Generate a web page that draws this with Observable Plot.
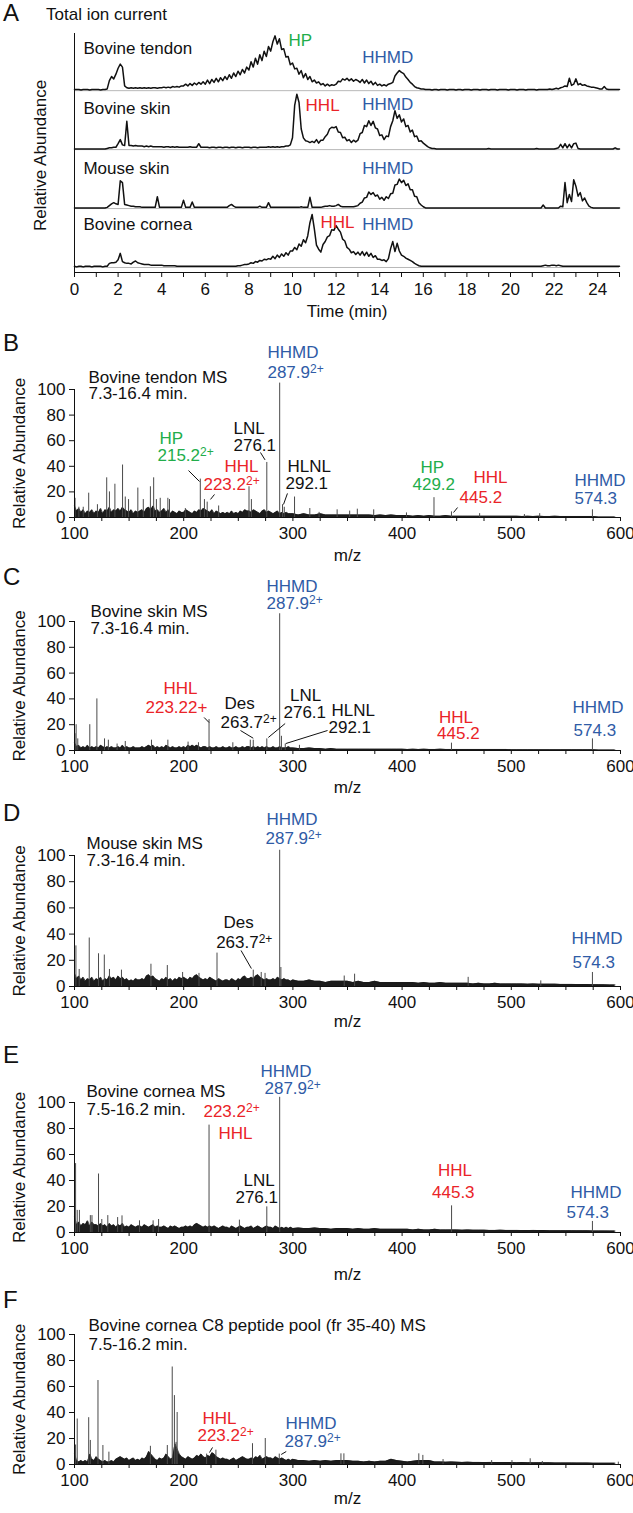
<!DOCTYPE html>
<html><head><meta charset="utf-8">
<script src="https://cdn.jsdelivr.net/npm/d3@7"></script>
<script src="https://cdn.jsdelivr.net/npm/@observablehq/plot@0.6"></script>
<style>
body{margin:0;background:#fff;}
#wrap{position:relative;width:633px;height:1513px;font-family:'Liberation Sans',Arial,Helvetica,sans-serif;color:#111;}
.panel{position:absolute;left:0;}
.letter{position:absolute;left:3px;font-size:24px;line-height:24px;}
.title{position:absolute;left:46px;top:6px;font-size:17px;line-height:17px;}
</style></head><body><div id="wrap"></div>
<script>
// ---------------- Panel A: total ion current (0.1 min steps, 0..25 min) ----------------
const ticStep = 0.1;
const ticTracks = ["Bovine tendon", "Bovine skin", "Mouse skin", "Bovine cornea"];
const ticTendon = [2,2,2,1,2,2,2,1,2,2, 2,2,1,2,2,3,17,24,20,28, 38,45,40,8,5,4,5,4,5,4, 5,4,5,4,5,4,5,5,4,5,
 5,6,5,6,5,7,6,7,6,8, 8,11,8,12,9,13,10,14,11,15, 11,18,12,19,14,21,15,22,17,24, 19,27,21,30,24,33,27,36,30,40,
 35,49,40,55,45,61,51,67,58,75, 67,83,93,79,88,70,71,57,58,44, 47,37,38,28,34,22,29,19,24,15, 18,13,15,10,12,8,11,8,10,9,
 11,16,15,20,18,21,17,20,16,19, 17,14,19,13,18,12,16,10,14,9, 11,8,10,8,11,12,14,25,30,34, 31,29,23,19,14,11,7,5,4,3,
 3,2,2,2,1,2,2,1,2,2, 2,1,2,2,2,1,2,2,1,2, 2,2,1,2,2,2,1,2,2,2, 1,2,2,2,1,2,2,2,2,1, 2,2,2,1,2,2,2,1,2,2,
 2,2,1,2,2,2,2,2,3,2, 3,4,3,5,6,8,7,21,9,11, 20,10,12,9,10,8,7,6,6,5, 4,3,3,7,3,2,2,2,2,2, 2];
const ticSkin = [1,1,1,1,1,1,1,1,1,1, 1,1,1,1,1,2,3,3,4,4, 10,17,8,7,48,7,7,6,7,6, 6,6,5,6,5,6,5,5,5,5,
 5,4,5,5,4,5,4,5,4,4, 4,4,4,5,4,4,4,10,4,4, 4,4,3,4,4,3,4,4,3,4, 4,3,4,4,3,4,4,3,4,4,
 4,3,4,4,3,4,4,4,4,5, 4,5,4,5,4,5,5,6,6,8, 20,75,94,80,35,20,15,14,12,14, 12,17,11,16,16,22,26,35,38,37,
 39,30,29,20,21,15,17,12,16,13, 16,27,29,41,39,49,41,48,37,35, 24,25,17,23,22,39,49,66,53,59, 47,52,39,41,30,33,22,23,14,15,
 11,8,5,3,2,2,1,1,1,1, 1,1,1,1,1,1,1,1,1,1, 1,1,1,1,1,1,1,1,1,1, 2,1,1,1,1,1,1,1,1,1, 1,1,1,1,1,1,1,1,1,1,
 1,1,2,1,1,1,1,1,1,1, 1,2,3,9,3,10,3,9,3,10, 11,2,1,1,1,1,1,1,1,1, 1,1,1,1,1,1,1,1,3,1, 1];
const ticMouse = [1,1,1,1,1,1,1,1,1,1, 1,1,1,1,1,2,5,8,10,8, 7,47,44,7,6,5,4,4,3,3, 3,2,2,2,2,2,2,2,20,2,
 2,2,2,2,2,2,2,2,2,2, 14,2,2,2,11,2,2,2,2,2, 2,2,2,2,2,2,2,2,2,2, 2,5,7,4,2,2,2,2,2,2,
 2,2,2,2,2,4,2,2,2,10, 2,2,2,2,2,2,2,2,2,2, 2,2,2,2,3,2,2,2,19,2, 2,2,2,2,3,4,4,5,4,4,
 5,7,4,3,3,3,3,3,3,4, 5,9,11,18,19,28,24,27,21,23, 16,19,14,20,17,25,26,40,41,50, 44,48,39,42,32,32,21,20,10,6,
 3,1,1,1,1,1,1,1,1,1, 1,1,1,1,1,1,1,1,1,1, 1,1,1,1,1,1,1,1,1,1, 1,1,1,1,1,1,1,1,1,1, 1,1,1,1,1,1,1,1,1,1,
 1,1,1,1,1,6,1,1,1,1, 1,1,1,4,3,44,10,24,12,49, 38,21,27,13,18,10,4,2,1,1, 1,1,1,1,1,1,1,1,1,1, 1];
const ticCornea = [2,1,2,2,1,2,2,2,1,2, 2,2,2,1,2,2,7,8,8,9, 13,24,10,8,7,7,6,9,11,8, 7,6,5,5,5,4,4,4,4,4,
 4,3,3,3,3,3,3,2,2,2, 2,2,2,2,2,2,2,2,2,2, 2,2,2,2,2,2,2,2,2,2, 2,2,2,2,2,3,3,4,5,5,
 6,8,7,10,9,12,11,14,13,15, 14,19,15,21,17,23,19,25,21,28, 28,34,30,40,36,47,42,54,76,90, 66,38,31,26,39,44,52,54,64,63,
 71,65,60,48,45,34,31,25,27,22, 26,21,27,20,26,19,24,17,20,14, 14,12,13,10,15,32,44,27,41,28, 21,19,16,14,12,10,7,5,3,2,
 2,2,2,2,2,2,2,2,2,2, 2,2,2,2,2,2,2,2,2,2, 2,2,2,2,2,2,2,2,2,2, 2,2,2,2,2,2,2,2,2,2, 2,2,2,2,2,2,2,2,2,2,
 2,2,2,2,2,3,4,3,3,4, 4,3,4,3,2,2,2,2,2,2, 2,2,2,2,2,2,2,2,2,2, 2,2,2,2,2,2,2,2,2,2, 2];
const ticLabels = [
 ["Bovine tendon", 0.41, 371.6, "k"], ["Bovine skin", 0.41, 269.8, "k"],
 ["Mouse skin", 0.41, 168, "k"], ["Bovine cornea", 0.41, 73, "k"],
 ["HP", 9.82, 385, "g"], ["HHL", 10.6, 274.9, "r"], ["HHL", 11.28, 76.3, "r"],
 ["HHMD", 13.2, 356.3, "b"], ["HHMD", 13.2, 276.6, "b"], ["HHMD", 13.2, 168, "b"], ["HHMD", 13.2, 73, "b"]
];

// ---------------- Mass spectra: grass (100-298 step 2; 300-595 step 5) and peaks [m/z, %] ----------------
const bGrassA = [9,5,7,4,6,3,5,4,6,3, 5,4,7,3,6,5,8,4,6,5, 7,5,8,6,5,4,6,3,5,4, 5,6,4,7,8,6,9,5,6,4, 5,7,4,6,3,5,4,3,5,4,
 4,6,5,4,3,5,4,6,5,7, 6,5,4,6,3,5,4,3,4,3, 4,3,5,3,4,3,5,4,6,5, 5,4,6,5,4,3,5,6,4,5, 4,3,4,5,3,4,3,4,3,3];
const bGrassB = [3,2,3,2,2,3,2,2,2,2, 2,2,2,2,2,1.5,2,1.5,2,1.5, 1.5,1.5,1,1.5,1,1.5,1,1,1.5,1, 1,1,1,1,1,1,1,1,1,1,
 1,1,0.8,1,0.8,1,0.8,0.8,1,0.8, 0.8,0.8,0.8,0.8,0.8,0.8,0.3,0.3,0.3,0.3];
const bPeaks = [[100.5,15],[104,8],[108,8],[113,19],[121,10],[129.5,31],[132,20],[137,26],[144,41],[146.5,16],[149.5,14],
 [158,23],[163,14],[169.5,24],[172.5,31],[175,14],[178.5,15],[185.5,15],[187,14],[201.5,7],[215.2,30],[219,14],[221.5,12],
 [232,9],[259.8,24],[262,14],[276.1,43],[287.9,105],[290.5,10],[292.1,8],[301.5,16],[315.5,7],[324,4],[340.5,6],[352,5],
 [359,6.5],[374,6],[404,3.6],[429.2,15.5],[445.2,4.4],[471,3],[512,2.3],[526,3],[574.3,6]];
const bLabels = [["HHMD",276.7,128.8,"b"],["287.9^2+",276.7,113.3,"b"],["Bovine tendon MS",112.8,109.4,"k"],["7.3-16.4 min.",112.8,96.9,"k"],
 ["HP",177.8,61.7,"g"],["215.2^2+",176,48.4,"g"],["HHL",237.4,39.5,"r"],["223.2^2+",218.1,25.8,"r"],["LNL",245.6,69.5,"k"],["276.1",245.6,56.3,"k"],
 ["HLNL",295,40,"k"],["292.1",293.2,26.3,"k"],["HP",416.8,39,"g"],["429.2",409.5,25.8,"g"],["HHL",465.4,31.3,"r"],["445.2",452.6,15.6,"r"],
 ["HHMD",557.9,28.9,"b"],["574.3",557.9,14.8,"b"]];
const bLeaders = [[204.4,36.7,214.5,28.1],[228.2,18,224.5,14.1],[270.3,50.8,274.5,45],[295,18.8,291.4,10.2],[450.8,7.8,447.1,3.9]];

const cGrassA = [6,3,4,2,3,2,4,2,3,2, 3,2,4,3,2,3,2,3,2,2, 3,2,4,2,3,2,2,3,2,2, 2,3,2,3,4,3,4,2,3,2, 3,2,4,3,2,3,2,2,3,2,
 3,2,4,3,4,3,4,3,2,3, 3,2,3,2,2,3,2,2,3,2, 2,3,2,2,3,2,2,3,2,3, 3,2,3,2,3,2,3,2,3,2, 2,3,2,2,3,2,2,2,3,2];
const cGrassB = [2,1.5,1.5,2,1.5,1.5,1,1.5,1,1, 1,1,1,1,1,1,1,1,1,1, 1,0.8,1,0.8,1,0.8,0.8,1,0.8,0.8, 0.8,0.8,0.8,0.8,0.8,0.8,0.8,0.8,0.8,0.8,
 0.6,0.6,0.6,0.6,0.6,0.6,0.6,0.6,0.6,0.6, 0.6,0.6,0.6,0.6,0.6,0.6,0.3,0.3,0.3,0.3];
const cPeaks = [[100.5,13],[101.5,20],[103,9],[114,20],[120.5,40],[127.5,9],[131,8],[139,5],[146.5,7],[170.5,8],[185.5,8],
 [204,6.5],[213.5,6],[223.2,24],[245,6],[261,8],[263.7,8],[276.1,9],[287.9,106],[289.5,11],[293,5],[306,4],[445.2,5.7],[574.3,9]];
const cLabels = [["HHMD",275.8,127.2,"b"],["287.9^2+",275.8,114,"b"],["Bovine skin MS",114.7,107.8,"k"],["7.3-16.4 min.",114.7,94.6,"k"],
 ["HHL",181.5,48.1,"r"],["223.22+",165,33.3,"r"],["Des",237.4,36.4,"k"],["263.7^2+",233.7,21.7,"k"],["LNL",297.3,42.6,"k"],["276.1",291.4,29.5,"k"],
 ["HLNL",335.3,31,"k"],["292.1",332.6,17.8,"k"],["HHL",433.8,25.6,"r"],["445.2",432,13.2,"r"],["HHMD",556,33.3,"b"],["574.3",557,15.5,"b"]];
const cLeaders = [[218.7,25.6,223.2,21.7],[252,15.5,263.7,9.5],[292.9,20.9,277.5,10.1],[331.7,15.5,293.5,5.4]];

const dGrassA = [10,6,8,5,7,4,6,5,7,4, 6,5,7,4,6,5,8,6,7,5, 8,6,7,5,6,4,5,4,6,5, 5,6,5,8,9,7,8,6,5,4, 6,5,7,5,6,4,6,5,7,6,
 7,6,5,7,6,8,9,7,6,5, 6,5,7,6,5,4,6,5,4,5, 5,4,6,5,4,6,5,7,8,6, 6,7,6,8,9,7,6,5,6,5, 5,6,5,7,6,5,6,5,5,4];
const dGrassB = [5,4,4,5,4,4,3,4,4,4, 4,3,4,3,3,4,3,3,3,3, 3,3,3,2.5,3,2.5,2.5,3,2.5,2.5, 2.5,2.5,2.5,2,2.5,2,2,2.5,2,2,
 2,2,2,1.8,2,1.8,1.8,1.8,1.8,1.6, 1.6,1.6,1.5,1.5,1.5,1.4,1.4,1.3,1.2,1.2];
const dPeaks = [[100,41],[101.3,31],[104.3,13],[113.5,37],[122,25],[127.3,24],[132,13],[143,12.5],[170,17],[185,16],[199,10.7],
 [214,10],[230.5,25.5],[263.7,12.5],[271,10.7],[274.5,10],[287.9,104],[289,14.5],[347,8],[356.5,9.4],[460.5,7],[527,4.3],[574.3,10.7]];
const dLabels = [["HHMD",275.8,127.4,"b"],["287.9^2+",274.9,113,"b"],["Mouse skin MS",111,109.2,"k"],["7.3-16.4 min.",111,96.2,"k"],
 ["Des",236.4,48.9,"k"],["263.7^2+",229.7,33.6,"k"],["HHMD",555.1,36.6,"b"],["574.3",556,18.3,"b"]];
const dLeaders = [[252.5,27.5,262,13.7]];

const eGrassA = [12,6,8,5,7,6,9,5,8,6, 6,5,7,5,6,4,7,5,6,4, 6,5,7,4,5,4,6,5,4,5, 5,4,6,5,4,5,6,4,5,4, 4,5,4,3,5,4,5,4,3,4,
 4,5,4,5,4,6,7,6,5,4, 5,4,5,4,5,4,3,4,5,4, 4,3,5,4,3,4,5,4,3,4, 4,5,3,4,5,4,3,4,5,4, 4,3,5,4,3,4,3,4,3,4];
const eGrassB = [3,3.5,3,3,3.5,3,3,2.5,3,3, 3,2.5,3,2.5,2.5,3,2.5,2.5,2.5,2.5, 2.5,2.5,2,2.5,2,2,2.5,2,2,2,
 2,1.8,2,1.8,1.8,1.8,1.6,1.6,1.8,1.6, 1.6,1.6,1.5,1.5,1.6,1.5,1.5,1.4,1.4,1.4, 1.4,1.4,1.3,1.3,1.3,1.2,1.2,1.2,1.1,1.1];
const ePeaks = [[100,58],[101,53],[102.5,17],[104.5,17],[114.5,13],[116,13],[122,45],[125,10],[130.5,13],[139.5,11.5],[143.5,12.8],
 [159.5,9],[172,9],[177,10],[223.2,82.6],[251,9.5],[276.1,19.7],[287.9,104],[445.3,20.5],[574.3,8.5]];
const eLabels = [["HHMD",270.3,123.6,"b"],["287.9^2+",274,110.8,"b"],["Bovine cornea MS",111,108.5,"k"],["7.5-16.2 min.",111,94.6,"k"],
 ["223.2^2+",218.1,93.1,"r"],["HHL",231.9,76.2,"r"],["LNL",254.8,40,"k"],["276.1",247.4,26.9,"k"],
 ["HHL",432.9,47.7,"r"],["445.3",427.4,30.8,"r"],["HHMD",554.2,30.8,"b"],["574.3",550.5,15.4,"b"]];
const eLeaders = [];

const fGrassA = [8,3,2,3,2,3,2,8,4,3, 6,4,3,2,3,2,2,3,2,4, 5,6,5,4,5,3,4,5,3,4, 3,5,4,6,10,8,6,4,3,5, 4,5,8,6,4,5,16,12,8,6,
 5,4,6,5,4,5,7,6,8,6, 5,7,6,9,8,6,5,4,5,4, 4,3,4,5,3,4,5,6,5,4, 4,5,4,6,5,7,4,5,6,5, 5,4,6,5,4,5,4,3,4,3];
const fGrassB = [4,3,3,2.5,3,2.5,3,2.5,3,3, 3,2.5,2.5,2,2.5,2,2.5,2.5,4,3, 2.5,2,2.5,3,3,3,2,2,1.8,2,
 1.8,1.6,1.8,1.6,1.6,1.5,1.6,1.5,1.5,1.5, 1.5,1.4,1.5,1.4,1.3,1.4,1.3,1.3,1.2,1.2, 1.2,1.2,1.1,1.1,1.1,1,1,1,1,1];
const fPeaks = [[100,35],[101,15],[102.5,35],[113,36],[114.5,18.5],[121.5,64.6],[126,14.6],[131.5,9.5],[169.5,14],[185,14.6],
 [189.5,75],[191.5,53],[193,17],[194,40],[221,8],[229.5,11],[263,16],[274.7,20],[287.5,8],[344,8.2],[346.7,8.2],[415.3,8.2],
 [419,7],[437.5,3.8],[482,3],[500.6,3],[517.3,4.4],[528.4,2.3],[598,1.8]];
const fLabels = [["Bovine cornea C8 peptide pool (fr 35-40) MS",112.8,107,"k"],["7.5-16.2 min.",112.8,92.3,"k"],
 ["HHL",217.2,35.3,"r"],["223.2^2+",212.6,22,"r"],["HHMD",293.2,31.5,"b"],["287.9^2+",292.3,17.5,"b"]];
const fLeaders = [[223.6,9.2,226.4,13.1],[289.3,7.7,293.9,10]];

// ---------------- rendering ----------------
const FONT = "'Liberation Sans', Arial, Helvetica, sans-serif";
const palette = {k: "#111111", g: "#22ad4a", r: "#ea2328", b: "#2f5ba6"};
const wrap = document.getElementById("wrap");
const baseStyle = {fontFamily: FONT, fontSize: "17px", color: "#111", background: "transparent", overflow: "visible"};

function supers(svg) {
  svg.querySelectorAll("text").forEach(el => {
    if (el.children.length === 0 && el.textContent.includes("^")) {
      const [a, b] = el.textContent.split("^");
      el.textContent = a;
      const ts = document.createElementNS("http://www.w3.org/2000/svg", "tspan");
      ts.setAttribute("dy", "-5");
      ts.setAttribute("font-size", "12px");
      ts.textContent = b;
      el.appendChild(ts);
    }
  });
}
function place(node, top) {
  const d = document.createElement("div");
  d.className = "panel"; d.style.top = top + "px";
  d.appendChild(node); wrap.appendChild(d);
}
function addText(cls, txt, left, top) {
  const d = document.createElement("div");
  d.className = cls; d.textContent = txt; d.style.top = top + "px";
  if (left != null) d.style.left = left + "px";
  wrap.appendChild(d);
}

// Panel A
const ticOffsets = [300, 200, 100, 0];
const ticData = [];
[ticTendon, ticSkin, ticMouse, ticCornea].forEach((arr, k) =>
  arr.forEach((v, i) => ticData.push({track: ticTracks[k], t: i * ticStep, y: ticOffsets[k] + v})));
const plotA = Plot.plot({
  width: 633, height: 322, marginLeft: 74, marginRight: 14, marginTop: 33, marginBottom: 50,
  x: {domain: [0, 25]}, y: {domain: [-8.5, 397], axis: null}, color: {type: "identity"},
  style: baseStyle,
  marks: [
    Plot.ruleY(ticOffsets, {stroke: "#b8b8b8", strokeWidth: 1}),
    Plot.line(ticData, {x: "t", y: "y", z: "track", stroke: "#111", strokeWidth: 1.5}),
    Plot.ruleY([-8.5], {stroke: "#111"}),
    Plot.ruleX([0], {stroke: "#111"}),
    Plot.axisX({ticks: d3.range(0, 26), tickFormat: d => (d % 2 === 0 && d < 25) ? String(d) : "", tickSize: 5, tickPadding: 5, label: null}),
    Plot.text(ticLabels, {x: d => d[1], y: d => d[2], text: d => d[0], fill: d => palette[d[3]], textAnchor: "start"}),
    Plot.text(["Time (min)"], {text: d => d, frameAnchor: "bottom", lineAnchor: "middle", dy: 39}),
    Plot.text(["Relative Abundance"], {text: d => d, x: -1.56, y: 190, rotate: -90, textAnchor: "middle", lineAnchor: "middle"})
  ]
});
place(plotA, 0);

function spectrum(cfg) {
  const {grassA, grassB, peaks, labels, leaders, y100, y0, mzDy} = cfg;
  const mt = 54, mb = 52;
  const grass = [...grassA.map((h, i) => ({mz: 100 + 2 * i, h})), ...grassB.map((h, i) => ({mz: 300 + 5 * i, h}))];
  const p = Plot.plot({
    width: 633, height: mt + (y0 - y100) + mb, marginLeft: 74, marginRight: 13, marginTop: mt, marginBottom: mb,
    x: {domain: [100, 600]}, y: {domain: [0, 100]}, color: {type: "identity"},
    style: baseStyle,
    marks: [
      Plot.areaY(grass, {x: "mz", y: "h", fill: "#1c1c1c"}),
      Plot.lineY(grass, {x: "mz", y: "h", stroke: "#1c1c1c", strokeWidth: 0.8}),
      Plot.ruleX(peaks, {x: d => d[0], y1: 0, y2: d => d[1], stroke: "#4a4a4a", strokeWidth: 1}),
      Plot.ruleY([0], {stroke: "#111"}),
      Plot.ruleX([100], {stroke: "#111"}),
      Plot.axisX({ticks: d3.range(100, 601, 25), tickFormat: d => d % 100 === 0 ? String(d) : "", tickSize: 4, tickPadding: 5, label: null}),
      Plot.axisY({ticks: [0, 20, 40, 60, 80, 100], tickSize: 5, tickPadding: 4, label: null}),
      Plot.link(leaders, {x1: d => d[0], y1: d => d[1], x2: d => d[2], y2: d => d[3], stroke: "#111", strokeWidth: 1}),
      Plot.text(labels, {x: d => d[1], y: d => d[2], text: d => d[0], fill: d => palette[d[3]], textAnchor: "start"}),
      Plot.text(["m/z"], {text: d => d, frameAnchor: "bottom", lineAnchor: "middle", dy: mzDy}),
      Plot.text(["Relative Abundance"], {text: d => d, x: 49.6, y: 50, rotate: -90, textAnchor: "middle", lineAnchor: "middle"})
    ]
  });
  supers(p);
  place(p, y100 - mt);
}
spectrum({grassA: bGrassA, grassB: bGrassB, peaks: bPeaks, labels: bLabels, leaders: bLeaders, y100: 389, y0: 517, mzDy: 38});
spectrum({grassA: cGrassA, grassB: cGrassB, peaks: cPeaks, labels: cLabels, leaders: cLeaders, y100: 621, y0: 750, mzDy: 37});
spectrum({grassA: dGrassA, grassB: dGrassB, peaks: dPeaks, labels: dLabels, leaders: dLeaders, y100: 855, y0: 986, mzDy: 35});
spectrum({grassA: eGrassA, grassB: eGrassB, peaks: ePeaks, labels: eLabels, leaders: eLeaders, y100: 1102, y0: 1232, mzDy: 42});
spectrum({grassA: fGrassA, grassB: fGrassB, peaks: fPeaks, labels: fLabels, leaders: fLeaders, y100: 1334, y0: 1464, mzDy: 34});

// Panel letters and title
[["A", 1], ["B", 331], ["C", 565], ["D", 801], ["E", 1043], ["F", 1288]].forEach(([l, t]) => addText("letter", l, null, t));
addText("title", "Total ion current", 46, 6);
</script></body></html>
